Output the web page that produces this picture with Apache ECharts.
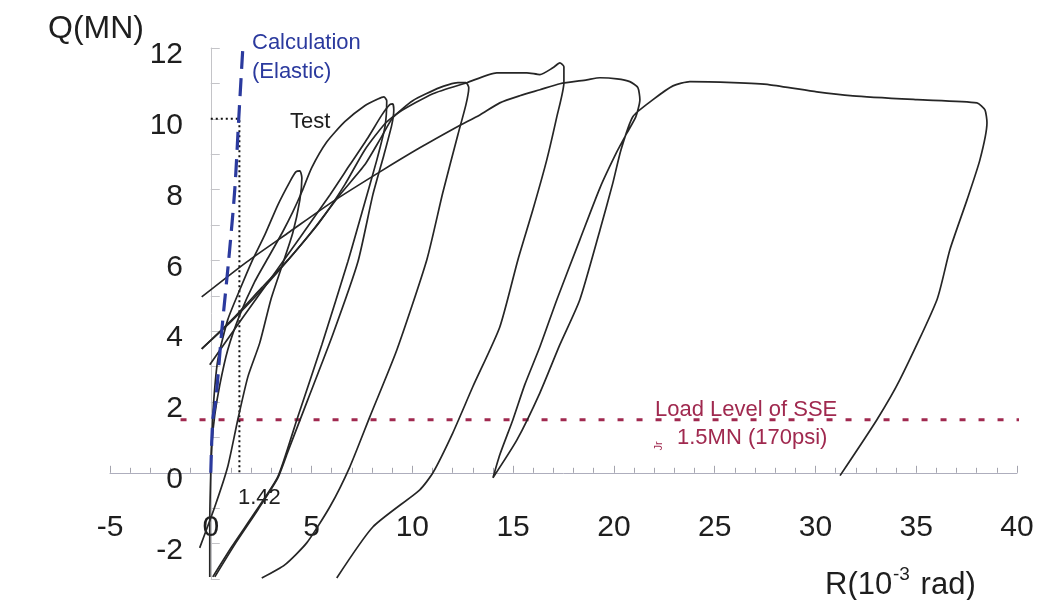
<!DOCTYPE html>
<html>
<head>
<meta charset="utf-8">
<title>Q-R hysteresis</title>
<script src="https://cdn.jsdelivr.net/npm/echarts@6/dist/echarts.min.js"></script>
<style>
  html, body { margin: 0; padding: 0; background: #ffffff; }
  #chart { width: 1041px; height: 600px; }
</style>
</head>
<body>
<div id="chart"></div>
<script>
// Shear force Q (MN) against drift angle R (10^-3 rad)

// Test record, one stroke per loading cycle, points as [R, Q]
const cycleA = [
  [0, 0], [0.05, 0.93], [0.15, 2.06], [0.35, 3.19], [0.84, 4.32], [1.44, 5.17],
  [2.03, 5.96], [2.68, 6.72], [3.33, 7.57], [3.92, 8.22], [4.22, 8.50], [4.42, 8.53],
  [4.52, 8.33], [4.42, 7.71], [4.07, 6.78], [3.52, 5.82], [2.98, 4.89], [2.43, 3.67],
  [1.84, 2.71], [1.34, 1.50], [0.84, 0.17], [0.20, -0.96], [-0.55, -2.12]
];
const cycleB1 = [
  [-0.05, -2.94], [-0.05, -1.33], [0, 0], [0.05, 0.79], [0.20, 1.64], [0.45, 2.49],
  [0.84, 3.47], [1.44, 4.46], [2.18, 5.40], [2.93, 6.16], [3.57, 6.81], [4.07, 7.37],
  [4.52, 7.94], [5.01, 8.62], [5.76, 9.35], [6.65, 9.92], [7.64, 10.37], [8.29, 10.56],
  [8.59, 10.62], [8.73, 10.51], [8.64, 9.77], [8.24, 8.84], [7.54, 7.43], [6.80, 5.96],
  [5.51, 3.62], [4.27, 1.50], [3.33, -0.11], [2.18, -1.13], [1.04, -2.09], [0.10, -2.94]
];
const cycleB2 = [
  [-0.05, 3.05], [1.44, 4.27], [2.93, 5.45], [4.42, 6.64], [5.91, 7.85], [6.90, 8.70],
  [7.79, 9.46], [8.49, 10.11], [8.88, 10.40], [9.03, 10.42], [9.08, 10.25], [8.98, 9.83],
  [8.59, 8.98], [8.04, 7.85], [7.30, 5.96], [6.05, 3.90], [4.81, 2.06], [3.82, 0.59],
  [3.33, -0.14], [2.33, -1.05], [1.24, -1.98], [0.20, -2.94]
];
const cycleC = [
  [-0.45, 3.50], [1.04, 4.32], [2.53, 5.23], [3.92, 6.07], [5.16, 6.92], [6.40, 7.85],
  [7.64, 8.70], [8.39, 9.41], [9.03, 10.03], [10.02, 10.51], [11.36, 10.88], [12.26, 11.02],
  [12.66, 11.02], [12.80, 10.88], [12.66, 10.40], [12.26, 9.55], [11.51, 7.91], [10.72, 6.02],
  [9.23, 3.47], [7.89, 1.58], [6.90, 0.17], [5.91, -0.96], [4.76, -1.98], [3.67, -2.60],
  [2.53, -2.97]
];
const cycleD = [
  [-0.45, 3.50], [1.04, 4.29], [2.53, 5.17], [4.02, 6.13], [5.41, 7.09], [6.65, 8.14],
  [7.64, 9.12], [8.64, 9.86], [9.38, 10.20], [11.02, 10.71], [12.70, 11.02], [14.19, 11.30],
  [15.68, 11.30], [16.33, 11.25], [16.97, 11.44], [17.32, 11.58], [17.52, 11.47], [17.52, 11.02],
  [17.17, 10.06], [16.67, 8.84], [15.98, 7.43], [15.24, 6.02], [14.34, 4.12], [13.00, 2.43],
  [12.01, 1.13], [11.02, 0.0], [10.37, -0.48], [8.04, -1.53], [6.25, -2.97]
];
const cycleE = [
  [-0.45, 4.97], [1.79, 5.96], [3.92, 6.81], [6.05, 7.66], [8.39, 8.50], [10.37, 9.18],
  [12.21, 9.77], [13.35, 10.11], [14.34, 10.45], [15.33, 10.65], [16.33, 10.82], [17.32, 10.99],
  [18.66, 11.10], [19.31, 11.16], [20.15, 11.13], [20.79, 11.05], [21.19, 10.88], [21.29, 10.54],
  [21.09, 10.06], [20.65, 9.60], [20.15, 9.07], [19.31, 8.05], [18.31, 6.58], [17.17, 4.89],
  [16.33, 3.56], [15.58, 2.49], [14.99, 1.50], [14.34, 0.51], [14.0, -0.14],
  [15.19, 0.93], [16.33, 2.26], [17.32, 3.62], [18.31, 4.89], [19.31, 6.86], [19.95, 8.19],
  [20.35, 9.12], [20.94, 10.06], [21.94, 10.54], [22.93, 10.93], [23.77, 11.05], [25.91, 11.02],
  [27.74, 10.96], [30.07, 10.76], [31.86, 10.65], [35.04, 10.54], [38.01, 10.45], [38.41, 10.25],
  [38.51, 9.89], [38.16, 8.84], [37.52, 7.71], [36.67, 6.30], [36.03, 4.89], [34.19, 2.63],
  [33.05, 1.50], [31.22, -0.08]
];

// Elastic calculation
const calcElastic = [
  [0, 0], [0.10, 1.50], [0.25, 2.06], [0.55, 4.04], [0.89, 6.02], [1.19, 8.00],
  [1.39, 10.03], [1.59, 12.00]
];

// Reference lines
const refR = 1.42;          // drift at Q = 10 MN
const refQ = 10;
const sseLevel = 1.5;       // load level of SSE (MN)
const sseSpan = [-1.5, 41.2];

// Tick labels
const xTicks = [-5, 0, 5, 10, 15, 20, 25, 30, 35, 40];
const yTicks = [-2, 0, 2, 4, 6, 8, 10, 12];

const FONT = '"Liberation Sans", Arial, Helvetica, sans-serif';
const INK = '#1e1e1e';
const BLUE = '#2b3a9e';
const CRIMSON = '#a0294f';

const chart = echarts.init(document.getElementById('chart'), null, { renderer: 'canvas' });

const testSeries = [cycleA, cycleB1, cycleB2, cycleC, cycleD, cycleE].map((d, i) => ({
  name: 'Test',
  id: 'test' + i,
  type: 'line',
  data: d,
  symbol: 'none',
  smooth: 0.2,
  lineStyle: { color: '#262626', width: 1.7 },
  z: 3
}));

chart.setOption({
  animation: false,
  backgroundColor: '#ffffff',
  grid: { left: 110, right: 24, top: 48, bottom: 21, containLabel: false, outerBoundsMode: 'none' },
  xAxis: {
    type: 'value',
    min: -5, max: 40, interval: 5,
    axisLine: { onZero: true, lineStyle: { color: '#aeaebd', width: 1 } },
    axisTick: { inside: true, length: 7, lineStyle: { color: '#a4a4ae' } },
    minorTick: { show: true, splitNumber: 5, length: 5, lineStyle: { color: '#a4a4ae' } },
    splitLine: { show: false },
    axisLabel: {
      // tick labels sit under the zero line, measured from the grid's bottom edge
      margin: -51,
      verticalAlign: 'middle',
      fontFamily: FONT, fontSize: 30, color: INK,
      formatter: v => (xTicks.indexOf(v) >= 0 ? String(v) : '')
    }
  },
  yAxis: {
    type: 'value',
    min: -3, max: 12, interval: 1,
    axisLine: { onZero: true, lineStyle: { color: '#c4c4c8', width: 1 } },
    axisTick: { inside: true, length: 9, lineStyle: { color: '#c4c4c8' } },
    splitLine: { show: false },
    axisLabel: {
      // tick labels sit left of the zero line, measured from the grid's left edge
      margin: -73,
      fontFamily: FONT, fontSize: 30, color: INK,
      formatter: v => (yTicks.indexOf(v) >= 0 ? '{v|' + v + '}' : ''),
      rich: {
        v: { fontFamily: FONT, fontSize: 30, color: INK, padding: [14, 0, 0, 0] }
      }
    }
  },
  series: [
    {
      name: 'Load Level of SSE',
      type: 'line',
      data: [[sseSpan[0], sseLevel], [sseSpan[1], sseLevel]],
      symbol: 'none',
      clip: false,
      lineStyle: { color: CRIMSON, width: 3, type: [6, 13] },
      z: 2
    },
    {
      name: 'Reference',
      type: 'line',
      data: [[0, refQ], [refR, refQ], [refR, 0]],
      symbol: 'none',
      lineStyle: { color: '#111', width: 2, type: [2, 3] },
      z: 2
    },
    {
      name: 'Calculation (Elastic)',
      type: 'line',
      data: calcElastic,
      symbol: 'none',
      smooth: 0.3,
      lineStyle: { color: BLUE, width: 3.2, type: [18, 9] },
      z: 4
    }
  ].concat(testSeries),
  graphic: [
    { type: 'text', x: 48, y: 29, style: { text: 'Q(MN)', fontFamily: FONT, fontSize: 32, fill: INK, align: 'left', verticalAlign: 'middle' } },
    { type: 'text', x: 825, y: 585, style: { text: 'R(10', fontFamily: FONT, fontSize: 31, fill: INK, align: 'left', verticalAlign: 'middle' } },
    { type: 'text', x: 893, y: 575, style: { text: '-3', fontFamily: FONT, fontSize: 19, fill: INK, align: 'left', verticalAlign: 'middle' } },
    { type: 'text', x: 912, y: 585, style: { text: ' rad)', fontFamily: FONT, fontSize: 31, fill: INK, align: 'left', verticalAlign: 'middle' } },
    { type: 'text', x: 252, y: 43, style: { text: 'Calculation', fontFamily: FONT, fontSize: 22, fill: BLUE, align: 'left', verticalAlign: 'middle' } },
    { type: 'text', x: 252, y: 72, style: { text: '(Elastic)', fontFamily: FONT, fontSize: 22, fill: BLUE, align: 'left', verticalAlign: 'middle' } },
    { type: 'text', x: 290, y: 122, style: { text: 'Test', fontFamily: FONT, fontSize: 22, fill: INK, align: 'left', verticalAlign: 'middle' } },
    { type: 'text', x: 238, y: 498, style: { text: '1.42', fontFamily: FONT, fontSize: 22, fill: INK, align: 'left', verticalAlign: 'middle' } },
    { type: 'text', x: 655, y: 410, style: { text: 'Load Level of SSE', fontFamily: FONT, fontSize: 22, fill: CRIMSON, align: 'left', verticalAlign: 'middle' } },
    { type: 'text', x: 677, y: 438, style: { text: '1.5MN (170psi)', fontFamily: FONT, fontSize: 22, fill: CRIMSON, align: 'left', verticalAlign: 'middle' } },
    { type: 'text', x: 659, y: 446, rotation: Math.PI / 2, style: { text: 'Jr', fontFamily: FONT, fontSize: 11, fill: CRIMSON, align: 'center', verticalAlign: 'middle' } }
  ]
});
</script>
</body>
</html>
